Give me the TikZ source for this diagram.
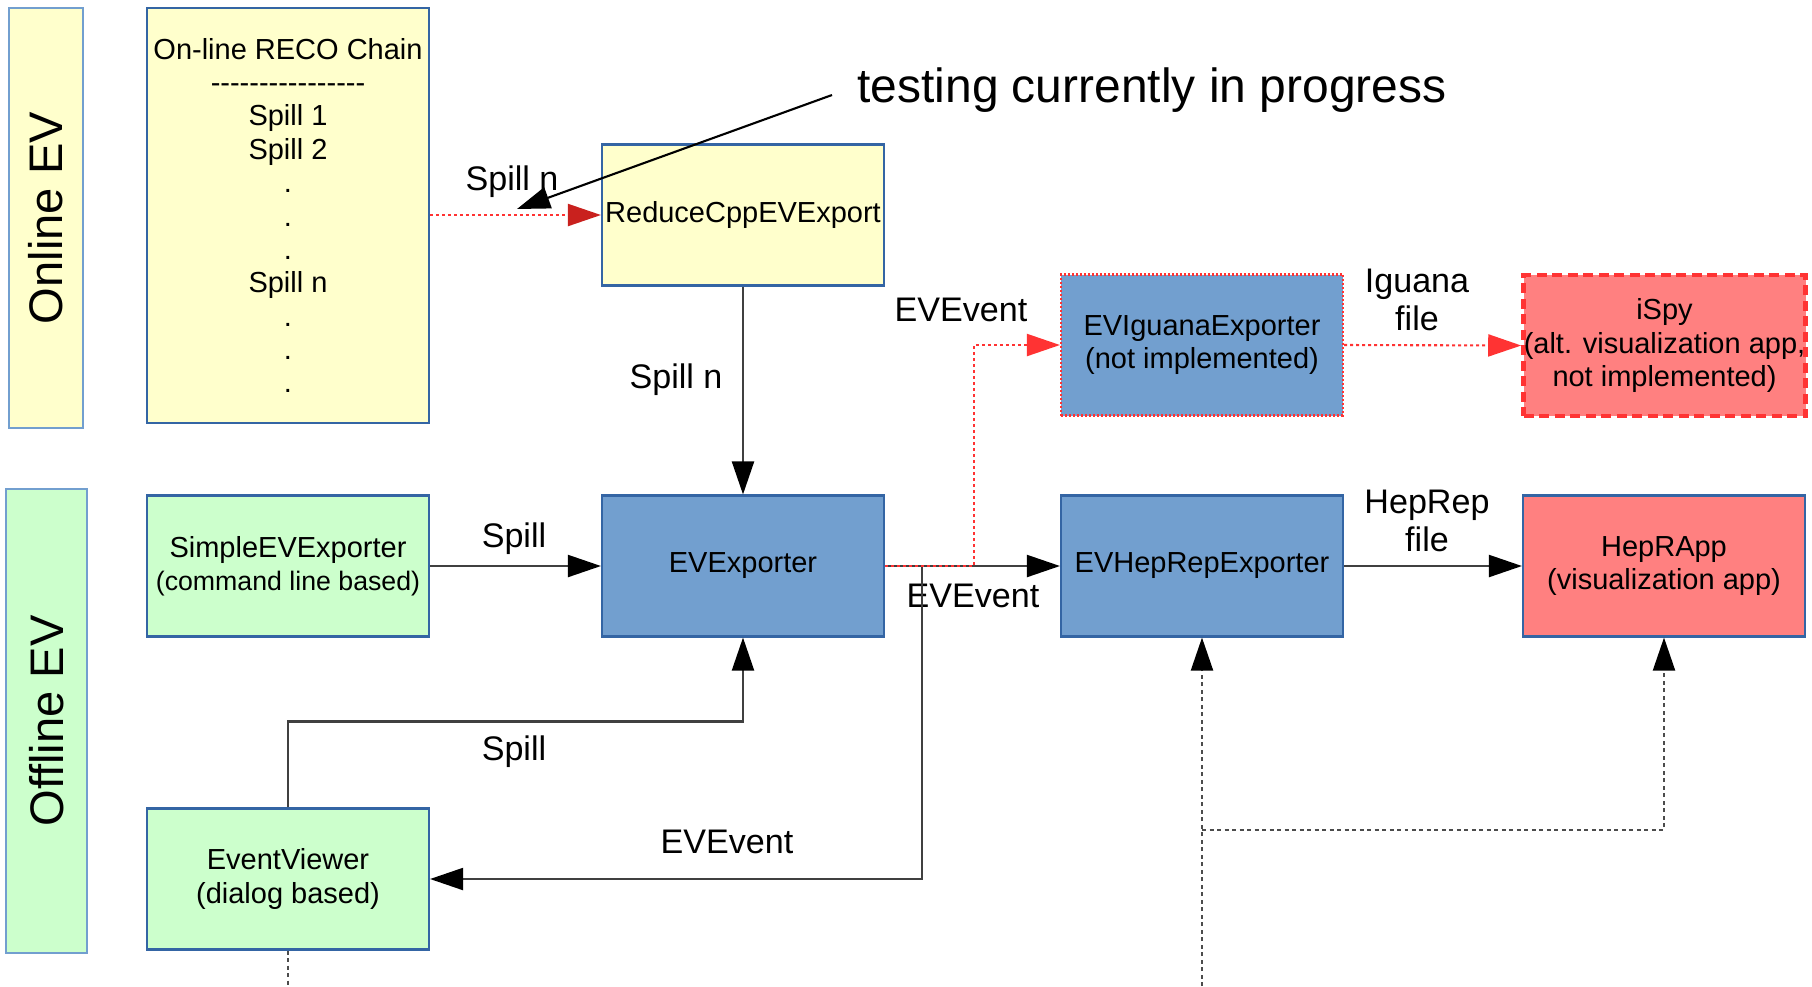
\documentclass[tikz,border=0pt]{standalone}
\usepackage{fontspec}
\setmainfont{Liberation Sans}[Ligatures=TeXOff]
\usetikzlibrary{arrows.meta, calc, positioning}

\definecolor{boxyellow}{HTML}{FFFFCC}
\definecolor{boxgreen}{HTML}{CCFFCC}
\definecolor{boxblue}{HTML}{729FCF}
\definecolor{edgeblue}{HTML}{3465A4}
\definecolor{boxred}{HTML}{FF8080}
\definecolor{linered}{HTML}{FF3333}
\definecolor{darkred}{HTML}{C9211E}

\tikzset{
  block/.style={draw=edgeblue, line width=0.6pt, minimum width=2.82cm, minimum height=1.41cm,
    align=center, inner sep=0pt, font=\fontsize{8.25}{9.5}\selectfont},
  sidebar/.style={draw=boxblue, line width=0.6pt, rotate=90, inner sep=0pt,
    font=\fontsize{13.4}{15}\selectfont},
  lbl/.style={font=\fontsize{9.7}{10.9}\selectfont, align=center, inner sep=0pt},
  flow/.style={draw=black!75, line width=0.6pt, -{Triangle[length=0.33cm, width=0.22cm, color=black]}},
  redflow/.style={draw=linered, dash pattern=on 0.03cm off 0.03cm, line width=0.6pt,
    -{Triangle[length=0.33cm, width=0.22cm, color=linered]}},
  gdash/.style={draw=black!70, dash pattern=on 0.04cm off 0.035cm, line width=0.6pt}
}

\begin{document}
\begin{tikzpicture}
\useasboundingbox (0,0) rectangle (18.12,-9.86);

% side bars
\node[sidebar, fill=boxyellow, minimum width=4.2cm, minimum height=0.74cm] (onlinebar) at (0.46,-2.18) {Online EV};
\node[sidebar, fill=boxgreen, minimum width=4.64cm, minimum height=0.81cm] (offlinebar) at (0.465,-7.21) {Offline EV};

% online chain
\node[block, fill=boxyellow, minimum height=4.15cm] (reco) at (2.88,-2.155)
  {On-line RECO Chain\\----------------\\Spill 1\\Spill 2\\.\\.\\.\\Spill n\\.\\.\\.};
\node[block, fill=boxyellow] (reduce) at (7.43,-2.15) {ReduceCppEVExport};
\node[block, fill=boxblue, draw=linered, dash pattern=on 0.02cm off 0.02cm] (iguana) at (12.02,-3.45) {EVIguanaExporter\\(not implemented)};
\node[block, fill=boxred, draw=linered, line width=1.3pt, dash pattern=on 0.1cm off 0.055cm] (ispy) at (16.645,-3.455)
  {iSpy\\(alt. visualization app,\\not implemented)};

% offline chain
\node[block, fill=boxgreen] (simple) at (2.88,-5.66) {SimpleEVExporter\\{\fontsize{7.6}{9.5}\selectfont(command line based)}};
\node[block, fill=boxblue] (evexp) at (7.43,-5.66) {EVExporter};
\node[block, fill=boxblue] (heprep) at (12.02,-5.66) {EVHepRepExporter};
\node[block, fill=boxred] (heprapp) at (16.64,-5.66) {HepRApp\\(visualization app)};
\node[block, fill=boxgreen] (viewer) at (2.88,-8.79) {EventViewer\\(dialog based)};

% labels
\node[lbl] (spilltop) at (5.12,-1.82) {Spill n};
\node[font=\fontsize{13.65}{15}\selectfont, inner sep=0pt] (testing) at (11.52,-0.90) {testing currently in progress};
\node[lbl] (spillmid) at (6.76,-3.80) {Spill n};
\node[lbl] (evtop) at (9.61,-3.10) {EVEvent};
\node[lbl] (iguanafile) at (14.17,-3.00) {Iguana\\file};
\node[lbl] (spillsimple) at (5.14,-5.39) {Spill};
\node[lbl] (evmid) at (9.73,-5.96) {EVEvent};
\node[lbl] (hepfile) at (14.27,-5.21) {HepRep\\file};
\node[lbl] (spillview) at (5.14,-7.52) {Spill};
\node[lbl] (evlow) at (7.27,-8.42) {EVEvent};

% free ends
\coordinate (testfrom) at (8.32,-0.95);
\coordinate (testto) at (5.17,-2.09);
\coordinate (viewerout) at (2.88,-9.86);
\coordinate (feedin) at (12.02,-9.86);
\coordinate (split) at (12.02,-8.30);

% connectors
\draw[dash pattern=on 0.03cm off 0.03cm, draw=linered, line width=0.6pt, -{Triangle[length=0.33cm, width=0.22cm, color=darkred]}]
  (reco.east |- reduce.west) -- (reduce.west);
\draw[flow, draw=black] (testfrom) -- (testto);
\draw[flow] (reduce.south) -- (evexp.north);
\draw[flow] (simple.east) -- (evexp.west);
\draw[flow] (evexp.east) -- (heprep.west);
\draw[flow] (heprep.east) -- (heprapp.west);
\draw[flow] (evexp.east) -- ++(0.37,0) |- (viewer.east);
\draw[flow] (viewer.north) -- ++(0,0.86) -| (evexp.south);
\draw[redflow] (evexp.east) -- ++(0.89,0) |- (iguana.west);
\draw[redflow] (iguana.east) -- (ispy.west);
\draw[gdash] (viewer.south) -- (viewerout);
\draw[gdash, -{Triangle[length=0.33cm, width=0.22cm, color=black]}] (feedin) -- (heprep.south);
\draw[gdash, -{Triangle[length=0.33cm, width=0.22cm, color=black]}] (split) -| (heprapp.south);
\end{tikzpicture}
\end{document}
